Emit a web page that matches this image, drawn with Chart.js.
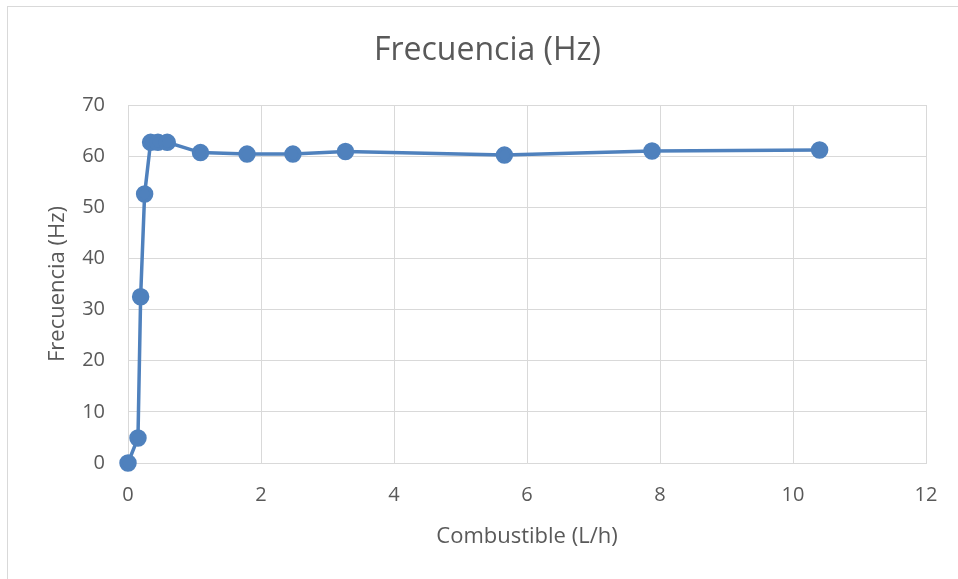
<!DOCTYPE html>
<html lang="es">

<head>
    <meta charset="UTF-8">
    <title>Frecuencia (Hz)</title>
    <script src="https://cdn.jsdelivr.net/npm/chart.js"></script>
    <style>
        body { margin: 0; overflow: hidden; background: #fff; }
        #marco {
            position: absolute; left: 7px; top: 6px; width: 1000px; height: 1000px;
            border: 1px solid #d9d9d9;
        }
        #caja { position: absolute; left: 0; top: 0; width: 958px; height: 579px; }
    </style>
</head>

<body>
    <div id="marco"></div>
    <div id="caja">
        <canvas id="grafico" width="958" height="579"></canvas>
    </div>
    <script>
        // datos
        const combustible = [0, 0.15, 0.19, 0.25, 0.34, 0.45, 0.59, 1.09, 1.79, 2.48, 3.27, 5.66, 7.88, 10.40];
        const frecuencia = [0, 4.9, 32.5, 52.6, 62.7, 62.7, 62.7, 60.7, 60.4, 60.4, 60.9, 60.2, 61.0, 61.2];
        const ticksX = [0, 2, 4, 6, 8, 10, 12];
        const ticksY = [0, 10, 20, 30, 40, 50, 60, 70];

        const gris = '#595959';
        const rejilla = '#d9d9d9';
        const azul = '#4f81bd';
        const fuente = "'Open Sans', sans-serif";

        const puntos = combustible.map((x, i) => ({ x: x, y: frecuencia[i] }));

        const config = {
            type: 'scatter',
            data: {
                datasets: [{
                    label: 'Frecuencia (Hz)',
                    data: puntos,
                    showLine: true,
                    borderColor: azul,
                    backgroundColor: azul,
                    borderWidth: 3.5,
                    pointRadius: 7,
                    pointHoverRadius: 7,
                    clip: false
                }]
            },
            options: {
                responsive: false,
                animation: false,
                // el titulo de Excel queda centrado algo a la derecha
                layout: { padding: { left: 49, right: 32, top: 0, bottom: 0 } },
                plugins: {
                    legend: { display: false },
                    tooltip: { enabled: false },
                    title: {
                        display: true,
                        text: 'Frecuencia (Hz)',
                        color: gris,
                        font: { family: fuente, size: 32, weight: 'normal' },
                        padding: { top: 32, bottom: 34.6 }
                    }
                },
                scales: {
                    x: {
                        type: 'linear',
                        min: ticksX[0],
                        max: ticksX[ticksX.length - 1],
                        afterBuildTicks: (s) => { s.ticks = ticksX.map(v => ({ value: v })); },
                        afterFit: (s) => { s.height = 116; },
                        grid: { color: rejilla, lineWidth: 1, drawTicks: false },
                        border: { color: rejilla, width: 1 },
                        ticks: { color: gris, padding: 20, font: { family: fuente, size: 20 } },
                        title: {
                            display: true,
                            text: 'Combustible (L/h)',
                            color: gris,
                            font: { family: fuente, size: 22 },
                            padding: { top: 28.8, bottom: 28.8 }
                        }
                    },
                    y: {
                        type: 'linear',
                        min: ticksY[0],
                        max: ticksY[ticksY.length - 1],
                        afterBuildTicks: (s) => { s.ticks = ticksY.map(v => ({ value: v })); },
                        afterFit: (s) => { s.width = 128 - 49; },
                        grid: { color: rejilla, lineWidth: 1, drawTicks: false },
                        border: { color: rejilla, width: 1 },
                        ticks: { color: gris, padding: 23, font: { family: fuente, size: 20 } },
                        title: {
                            display: true,
                            text: 'Frecuencia (Hz)',
                            color: gris,
                            font: { family: fuente, size: 22 },
                            padding: { top: 58 - 49 - 13.2, bottom: 0 }
                        }
                    }
                }
            }
        };

        const ctx = document.querySelector('#grafico').getContext('2d');
        const miGrafico = new Chart(ctx, config);
    </script>
</body>

</html>
